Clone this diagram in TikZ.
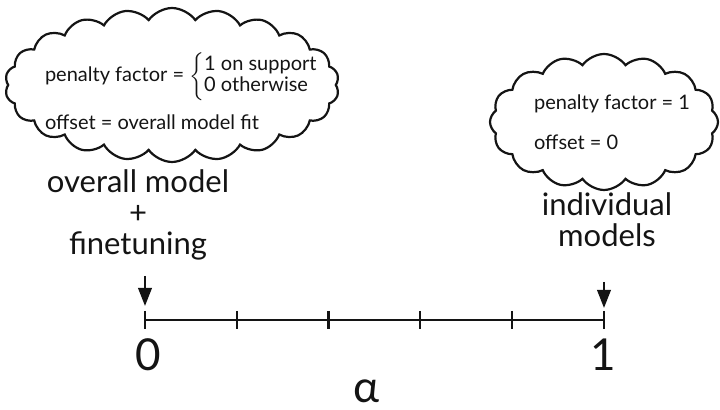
\documentclass[tikz,border=0pt]{standalone}
\usepackage{fontspec}
\setmainfont{Lato}
\usetikzlibrary{arrows.meta,positioning,shapes.symbols}
\definecolor{ink}{RGB}{20,20,20}
\tikzset{
  >={Triangle[length=3.2mm,width=2.4mm]},
  thought/.style={cloud,draw=ink,line width=1.1pt,cloud puffs=#1,cloud puff arc=110,
    cloud ignores aspect,inner sep=0pt},
  thought/.default=18,
  note/.style={align=left,font=\fontsize{10}{12}\selectfont,text=ink},
  tag/.style={font=\fontsize{15.5}{15.5}\selectfont,align=center,text=ink},
  num/.style={font=\fontsize{22}{22}\selectfont,text=ink},
  tick/.style={line width=1.1pt,draw=ink},
  flow/.style={->,line width=1.1pt,draw=ink},
}
\begin{document}
\begin{tikzpicture}[x=0.5pt,y=-0.5pt]
  \useasboundingbox (0,0) rectangle (720,410);
  % axis with ticks
  \foreach \i in {0,...,5}
    \coordinate (t\i) at (145+\i*91.8,320);
  \draw[tick] (t0) -- (t5);
  \foreach \i in {0,...,5}
    \draw[tick] ([yshift=4.5pt]t\i) -- ([yshift=-4.5pt]t\i);
  \node[num] (zero) at (148,355) {0};
  \node[num] (one) at (603,355) {1};
  \node[num] (alpha) at (367,391) {α};
  % labels above the ends
  \node[tag] (overall) at (138,215) {overall model\\+\\finetuning};
  \node[tag] (indiv) at (607,220) {individual\\models};
  \coordinate (a0) at (145,276);
  \coordinate (a5) at (604,282);
  \draw[flow,shorten >=7pt] (a0) -- (t0);
  \draw[flow,shorten >=6pt] (a5) -- (t5);
  % clouds
  \node[thought=22,minimum width=167pt,minimum height=77pt] (fine cloud) at (172,85) {};
  \node[note] (fine text) at (182,91) {penalty factor = $\left\{\def\arraystretch{0.8}\begin{tabular}{@{}l@{}}1 on support\\0 otherwise\end{tabular}\right.$\\[6pt]offset = overall model fit};
  \node[thought=16,minimum width=114pt,minimum height=68pt] (indiv cloud) at (604,122) {};
  \node[note] (indiv text) at ([xshift=4pt]indiv cloud) {penalty factor = 1\\[8pt]offset = 0};
\end{tikzpicture}
\end{document}
